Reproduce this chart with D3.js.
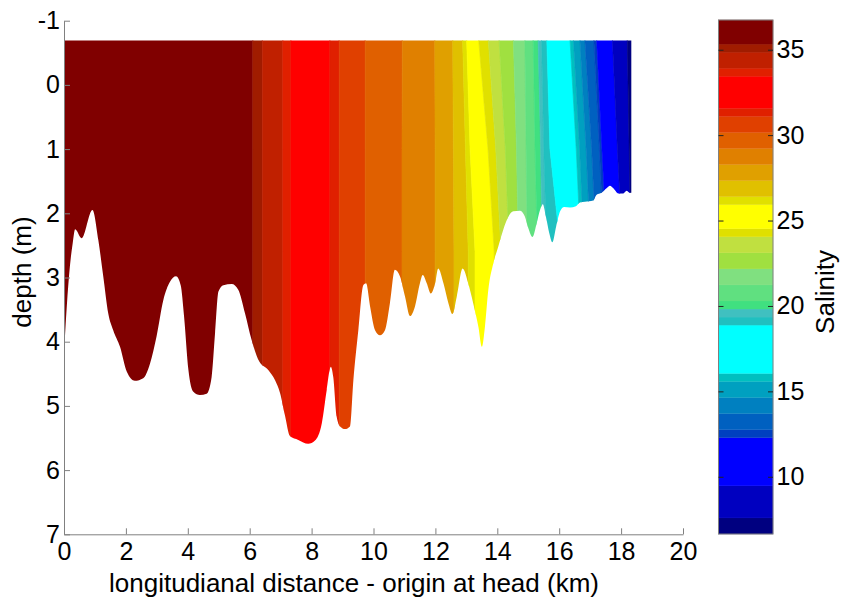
<!DOCTYPE html>
<html>
<head>
<meta charset="utf-8">
<script src="https://cdn.jsdelivr.net/npm/d3@7"></script>
<style>
  body { margin: 0; background: #fff; }
  svg text { font-family: "Liberation Sans", Arial, Helvetica, sans-serif; }
</style>
</head>
<body>
<svg id="chart" width="841" height="601"></svg>
<script>
// Longitudinal salinity section of the estuary: filled isohaline bands over the bed profile.

// Axis ticks
const xTicks = [0, 2, 4, 6, 8, 10, 12, 14, 16, 18, 20];
const yTicks = [-1, 0, 1, 2, 3, 4, 5, 6, 7];
const cbTicks = [10, 15, 20, 25, 30, 35];

// Colour scale limits and the lower salinity edge of each colour band (fresh -> saline)
const salinityRange = [6.65, 36.74];
const bandFloors = [6.65, 7.59, 9.47, 12.29, 12.76, 13.70, 14.64, 15.58, 16.05, 18.88,
                    19.35, 19.82, 20.29, 21.23, 22.17, 23.11, 24.05, 24.52, 25.93, 26.40,
                    27.34, 28.28, 29.22, 30.16, 31.10, 31.57, 33.45, 33.92, 34.86, 35.33];
const bandColors = ["#000080", "#0000C0", "#0000FF", "#0040C0", "#0060C0", "#0080C0", "#00A0C0", "#00C0C0", "#00FFFF", "#20C0C0",
                    "#40C0C0", "#40E080", "#60E080", "#80E080", "#A0E040", "#C0E040", "#E0E000", "#FFFF00", "#E0E000", "#E0C000",
                    "#E0A000", "#E08000", "#E06000", "#E04000", "#E02000", "#FF0000", "#E02000", "#C02000", "#A01C00", "#800000"];

// Isohaline positions (km), saltiest first, at the water surface, 1.0 m and 2.6 m depth
const isoDepths = [-0.69, 1.0, 2.6];
const isoKmSurface = [6.10, 6.41, 7.07, 7.33, 8.59, 8.89, 9.73, 10.93, 11.98, 12.56,
                      12.88, 13.01, 13.40, 13.71, 14.06, 14.52, 14.89, 15.16, 15.32, 15.43,
                      15.60, 16.35, 16.46, 16.67, 16.83, 17.12, 17.21, 17.72, 18.20];
const isoKm1m      = [6.10, 6.41, 7.07, 7.33, 8.59, 8.89, 9.73, 10.92, 11.99, 12.58,
                      12.97, 13.12, 13.70, 13.95, 14.26, 14.62, 14.93, 15.22, 15.40, 15.50,
                      15.70, 16.55, 16.66, 16.87, 17.05, 17.30, 17.38, 17.88, 18.26];
const isoKm26m     = [6.10, 6.41, 7.07, 7.33, 8.59, 8.89, 9.73, 10.92, 11.99, 12.60,
                      13.06, 13.28, 13.90, 14.12, 14.38, 14.68, 14.97, 15.30, 15.45, 15.60,
                      16.05, 16.70, 16.80, 17.02, 17.20, 17.45, 17.55, 18.05, 18.32];

// Bed profile along the channel
const surfaceDepth = -0.69;
const bedKm = [0.00, 0.09, 0.19, 0.28, 0.36, 0.57, 0.92, 1.11, 1.27, 1.43, 1.59, 1.81, 2.03, 2.29, 2.56,
               2.78, 2.99, 3.21, 3.42, 3.62, 3.77, 3.88, 4.02, 4.18, 4.39, 4.61, 4.77, 4.88, 4.99, 5.15,
               5.42, 5.63, 5.85, 6.06, 6.31, 6.60, 6.82, 6.98, 7.14, 7.30, 7.57, 7.89, 8.11, 8.33, 8.49,
               8.62, 8.70, 8.81, 8.92, 9.08, 9.24, 9.35, 9.51, 9.67, 9.76, 9.89, 10.05, 10.21, 10.37, 10.53,
               10.69, 10.86, 11.02, 11.18, 11.34, 11.50, 11.59, 11.72, 11.85, 11.99, 12.09, 12.26, 12.42, 12.55, 12.69,
               12.88, 13.06, 13.22, 13.39, 13.50, 13.60, 13.71, 13.87, 14.03, 14.19, 14.36, 14.52, 14.73, 14.89, 15.00,
               15.14, 15.27, 15.38, 15.47, 15.57, 15.68, 15.78, 15.90, 16.03, 16.16, 16.35, 16.54, 16.67, 16.83, 17.10,
               17.21, 17.37, 17.53, 17.64, 17.75, 17.91, 18.07, 18.18, 18.27, 18.33];
const bedDepth = [4.18, 3.45, 2.83, 2.47, 2.25, 2.39, 1.95, 2.42, 2.99, 3.56, 3.82, 4.08, 4.47, 4.61, 4.57,
                  4.34, 3.92, 3.35, 3.07, 2.98, 3.12, 3.61, 4.44, 4.78, 4.83, 4.81, 4.55, 3.87, 3.22, 3.12,
                  3.10, 3.19, 3.56, 3.97, 4.31, 4.44, 4.60, 4.80, 5.15, 5.47, 5.53, 5.59, 5.54, 5.27, 4.75,
                  4.39, 4.55, 5.17, 5.32, 5.36, 5.32, 4.60, 3.82, 3.12, 3.09, 3.45, 3.82, 3.90, 3.82, 3.40,
                  2.88, 2.99, 3.30, 3.60, 3.45, 3.09, 2.96, 3.09, 3.25, 3.09, 2.86, 3.09, 3.40, 3.57, 3.30,
                  2.86, 3.09, 3.40, 3.77, 4.08, 3.77, 3.19, 2.78, 2.52, 2.26, 2.05, 1.97, 1.96, 2.05, 2.23,
                  2.37, 2.16, 1.95, 1.86, 2.05, 2.31, 2.45, 2.21, 1.97, 1.90, 1.91, 1.89, 1.83, 1.82, 1.80,
                  1.71, 1.68, 1.61, 1.57, 1.61, 1.69, 1.69, 1.65, 1.68, 1.68];

// ---------------------------------------------------------------------------
const axisGrey = "#808080";
const fontFamily = '"Liberation Sans", Arial, Helvetica, sans-serif';

const x = d3.scaleLinear().domain([0, 20]).range([64, 683]);
const y = d3.scaleLinear().domain([-1, 7]).range([20.7, 534.3]);
const c = d3.scaleLinear().domain(salinityRange).range([534, 20]);

const svg = d3.select("#chart");
const defs = svg.append("defs");

// Water column mask: surface down to the bed
const bed = bedKm.map((k, i) => ({ km: k, depth: bedDepth[i] }));
const wetArea = d3.area()
  .x(d => x(d.km))
  .y0(y(surfaceDepth))
  .y1(d => y(d.depth))
  .curve(d3.curveMonotoneX);
defs.append("clipPath").attr("id", "wet")
  .append("path").attr("d", wetArea(bed));

// Isohaline edges as polylines in (km, depth)
const nIso = isoKmSurface.length;
const isoTable = d3.range(nIso).map(i => [isoKmSurface[i], isoKm1m[i], isoKm26m[i]]);
const sectionEnd = bedKm[bedKm.length - 1] + 0.2;

function edgePoints(kms) {
  return [[kms[0], -1]]
    .concat(isoDepths.map((d, i) => [kms[i], d]))
    .concat([[kms[kms.length - 1], 7]]);
}

const line = d3.line().x(d => x(d[0])).y(d => y(d[1]));

const bands = d3.range(nIso + 1).map(j => {
  const left = j === 0 ? [0, 0, 0] : isoTable[j - 1];
  const right = j === nIso ? [sectionEnd, sectionEnd, sectionEnd] : isoTable[j];
  const poly = edgePoints(left).concat(edgePoints(right).reverse());
  return { color: bandColors[bandColors.length - 1 - j], poly };
});

svg.append("g").attr("clip-path", "url(#wet)")
  .selectAll("path").data(bands).join("path")
  .attr("d", d => line(d.poly) + "Z")
  .attr("fill", d => d.color)
  .attr("stroke", d => d.color)
  .attr("stroke-width", 0.6);

// Axes
function styleAxis(g, size) {
  g.attr("font-family", fontFamily).attr("font-size", size);
  g.select(".domain").attr("stroke", axisGrey);
  g.selectAll(".tick line").attr("stroke", axisGrey);
  g.selectAll(".tick text").attr("fill", "#000");
}

svg.append("g")
  .attr("transform", `translate(0,${y(7)})`)
  .call(d3.axisBottom(x).tickValues(xTicks).tickFormat(d => String(d))
    .tickSize(-6).tickSizeOuter(0).tickPadding(7.5))
  .call(g => styleAxis(g, 25));

svg.append("g")
  .attr("transform", `translate(${x(0)},0)`)
  .call(d3.axisLeft(y).tickValues(yTicks).tickFormat(d => String(d))
    .tickSize(-6).tickSizeOuter(0).tickPadding(4))
  .call(g => styleAxis(g, 25));

svg.append("text")
  .attr("x", 354).attr("y", 592)
  .attr("text-anchor", "middle").attr("font-size", 26).attr("fill", "#000")
  .text("longitudianal distance - origin at head (km)");

svg.append("text")
  .attr("transform", "translate(31,272) rotate(-90)")
  .attr("text-anchor", "middle").attr("font-size", 26).attr("fill", "#000")
  .text("depth (m)");

// Colour bar
const cbLeft = 718.5, cbRight = 773;
const cbBands = bandFloors.map((lo, i) => ({
  lo, hi: i + 1 < bandFloors.length ? bandFloors[i + 1] : salinityRange[1], color: bandColors[i]
}));

const cb = svg.append("g");
cb.selectAll("rect").data(cbBands).join("rect")
  .attr("x", cbLeft).attr("width", cbRight - cbLeft)
  .attr("y", d => c(d.hi)).attr("height", d => c(d.lo) - c(d.hi))
  .attr("fill", d => d.color)
  .attr("stroke", d => d.color).attr("stroke-width", 0.3);

cb.append("rect")
  .attr("x", cbLeft).attr("y", c(salinityRange[1]))
  .attr("width", cbRight - cbLeft).attr("height", c(salinityRange[0]) - c(salinityRange[1]))
  .attr("fill", "none").attr("stroke", axisGrey).attr("stroke-width", 1);

svg.append("g")
  .attr("transform", `translate(${cbRight},0)`)
  .call(d3.axisRight(c).tickValues(cbTicks).tickFormat(d => String(d))
    .tickSize(-5).tickSizeOuter(0).tickPadding(3.5))
  .call(g => {
    styleAxis(g, 25);
    g.select(".domain").remove();
    g.selectAll(".tick line").attr("stroke", "#222");
  });

svg.append("g")
  .attr("transform", `translate(${cbLeft},0)`)
  .call(d3.axisLeft(c).tickValues(cbTicks).tickFormat("")
    .tickSize(-5).tickSizeOuter(0))
  .call(g => {
    g.select(".domain").remove();
    g.selectAll(".tick line").attr("stroke", "#222");
  });

svg.append("text")
  .attr("transform", "translate(834,292) rotate(-90)")
  .attr("text-anchor", "middle").attr("font-size", 26).attr("fill", "#000")
  .text("Salinity");
</script>
</body>
</html>
